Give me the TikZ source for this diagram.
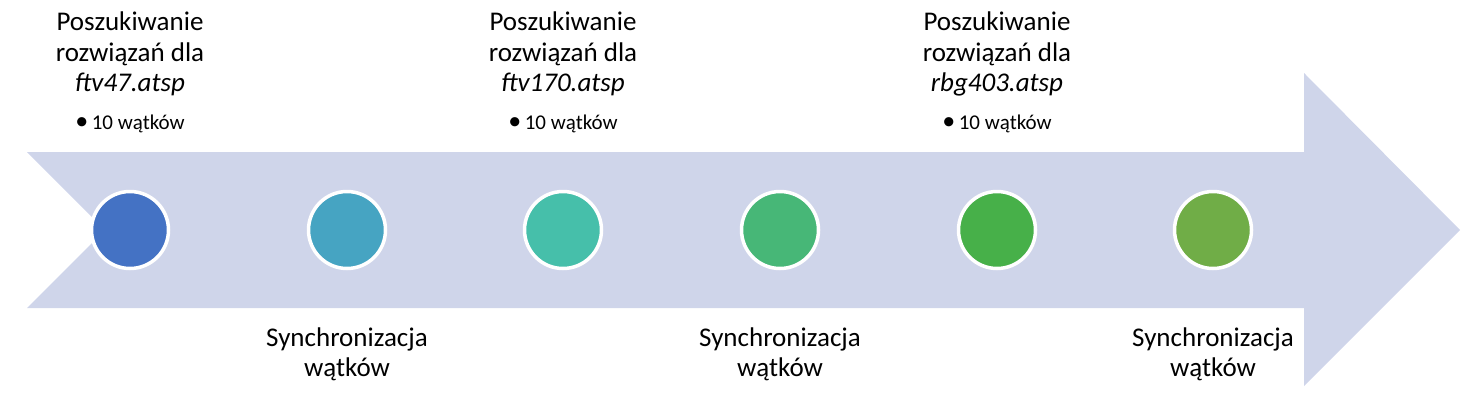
\documentclass[tikz,border=0pt]{standalone}
\usepackage{fontspec}
\setmainfont{Carlito}
\definecolor{arrowbg}{HTML}{CFD5EA}
\definecolor{cA}{HTML}{4472C4}
\definecolor{cB}{HTML}{46A4C2}
\definecolor{cC}{HTML}{46BFAA}
\definecolor{cD}{HTML}{47B777}
\definecolor{cE}{HTML}{47B049}
\definecolor{cF}{HTML}{70AD47}
\tikzset{
  dot/.style={circle, draw=white, line width=3.5pt, minimum size=77pt, inner sep=0pt},
  toptext/.style={align=center, font=\fontsize{27}{30.5}\selectfont, inner sep=0pt},
  bullettext/.style={font=\fontsize{21}{24}\selectfont, inner sep=0pt},
  bottext/.style={align=center, font=\fontsize{27}{30}\selectfont, inner sep=0pt}
}
\begin{document}
\begin{tikzpicture}[x=1pt,y=-1pt]
\useasboundingbox (0,0) rectangle (1472,413);
\fill[arrowbg] (27,152) -- (1304,152) -- (1304,73) -- (1460,230) -- (1304,386) -- (1304,308) -- (27,308) -- (105,230) -- cycle;
\node[dot, fill=cA] (d1) at (130,230) {};
\node[dot, fill=cB] (d2) at (347,230) {};
\node[dot, fill=cC] (d3) at (563,230) {};
\node[dot, fill=cD] (d4) at (780,230) {};
\node[dot, fill=cE] (d5) at (997,230) {};
\node[dot, fill=cF] (d6) at (1213,230) {};
\node[toptext] (t1) at (130,54) {Poszukiwanie\\rozwiązań dla\\\textit{ftv47.atsp}};
\node[toptext] (t3) at (563,54) {Poszukiwanie\\rozwiązań dla\\\textit{ftv170.atsp}};
\node[toptext] (t5) at (997,54) {Poszukiwanie\\rozwiązań dla\\\textit{rbg403.atsp}};
\node[bullettext] (b1) at (130,124) {{\fontsize{26}{24}\selectfont•}\,10 wątków};
\node[bullettext] (b3) at (563,124) {{\fontsize{26}{24}\selectfont•}\,10 wątków};
\node[bullettext] (b5) at (997,124) {{\fontsize{26}{24}\selectfont•}\,10 wątków};
\node[bottext] (s2) at (347,354) {Synchronizacja\\wątków};
\node[bottext] (s4) at (780,354) {Synchronizacja\\wątków};
\node[bottext] (s6) at (1213,354) {Synchronizacja\\wątków};
\end{tikzpicture}
\end{document}
